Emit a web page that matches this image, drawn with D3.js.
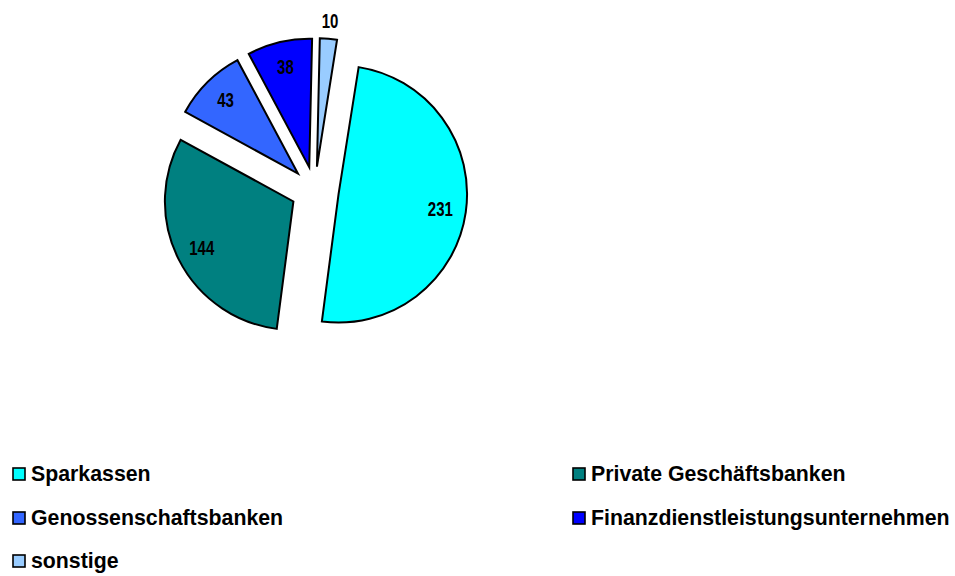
<!DOCTYPE html>
<html>
<head>
<meta charset="utf-8">
<script src="https://cdn.jsdelivr.net/npm/d3@7"></script>
<style>
  body { margin: 0; background: #fff; }
  svg { display: block; }
  text { font-family: "Liberation Sans", Arial, sans-serif; font-weight: bold; fill: #000; }
</style>
</head>
<body>
<div id="chart"></div>
<script>
  // Pie chart: institutions by type (exploded slices)
  const categories = ["Sparkassen", "Private Geschäftsbanken", "Genossenschaftsbanken",
                      "Finanzdienstleistungsunternehmen", "sonstige"];
  const values = [231, 144, 43, 38, 10];
  const colors = ["#00FFFF", "#008080", "#3366FF", "#0000FF", "#99CCFF"];

  function drawGraph() {
    const width = 955, height = 576;
    const cx = 314.8, cy = 190.6;
    const radius = 128.5;
    const explode = 24;
    const firstSliceAngle = 9; // degrees, clockwise from 12 o'clock

    const canvas = d3.select("#chart")
      .append("svg")
      .attr("width", width)
      .attr("height", height);

    const data = categories.map((c, i) => ({ name: c, value: values[i], color: colors[i] }));

    const pie = d3.pie()
      .sort(null)
      .value(d => d.value)
      .startAngle(firstSliceAngle * Math.PI / 180)
      .endAngle(firstSliceAngle * Math.PI / 180 + 2 * Math.PI);

    const arc = d3.arc().innerRadius(0).outerRadius(radius);
    const arcs = pie(data);
    const mid = d => (d.startAngle + d.endAngle) / 2;

    const plot = canvas.append("g")
      .attr("transform", `translate(${cx},${cy})`);

    const slices = plot.selectAll(".slice")
      .data(arcs)
      .join("g")
      .attr("class", "slice")
      .attr("transform", d => `translate(${Math.sin(mid(d)) * explode},${-Math.cos(mid(d)) * explode})`);

    slices.append("path")
      .attr("d", arc)
      .style("fill", d => d.data.color)
      .style("stroke", "#000")
      .style("stroke-width", 2)
      .style("stroke-linejoin", "miter");

    // DATA LABELS (small slices go outside)
    slices.append("text")
      .attr("transform", d => {
        const small = d.data.value < 20;
        const a = mid(d);
        const r = small ? radius + 18 : radius * 0.8;
        return `translate(${Math.sin(a) * r},${-Math.cos(a) * r}) scale(0.77,1)`;
      })
      .attr("text-anchor", "middle")
      .attr("dy", "0.36em")
      .style("font-size", "19.5px")
      .text(d => d.data.value);

    // LEGEND (two columns, row-major)
    const legend = canvas.append("g");
    const colX = [12, 572];
    const rowY = [467, 511, 554];
    const items = legend.selectAll(".item")
      .data(data)
      .join("g")
      .attr("class", "item")
      .attr("transform", (d, i) => `translate(${colX[i % 2]},${rowY[Math.floor(i / 2)]})`);

    items.append("rect")
      .attr("x", 1).attr("y", 1)
      .attr("width", 12).attr("height", 12)
      .style("fill", d => d.color)
      .style("stroke", "#000")
      .style("stroke-width", 1.6);

    items.append("text")
      .attr("x", 19).attr("y", 14)
      .style("font-size", "21.3px")
      .text(d => d.name);
  }

  drawGraph();
</script>
</body>
</html>
